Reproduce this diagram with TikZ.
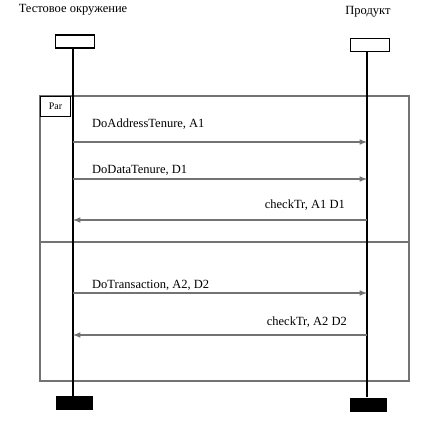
\documentclass[tikz,border=0pt]{standalone}
\usepackage{fontspec}
\setmainfont{Liberation Serif}
\usetikzlibrary{arrows}

\begin{document}
\begin{tikzpicture}[x=1pt,y=-1pt,
  head/.style={draw,line width=1.3pt,minimum width=39pt,minimum height=13pt,inner sep=0pt},
  foot/.style={fill=black,minimum width=37pt,minimum height=14pt,inner sep=0pt},
  msg/.style={draw=black!55,line width=1.5pt,-latex},
  lbl/.style={font=\fontsize{12.5}{14}\selectfont,inner sep=0pt}]
\useasboundingbox (0,0) rectangle (437,434);

\node[lbl] (testenv) at (73, 10) {Тестовое окружение};
\node[lbl] (product) at (368, 12) {Продукт};

\node[head] (envhead) at (75, 41.5) {};
\node[head] (prodhead) at (370, 45) {};
\node[foot] (envfoot) at (74, 403) {};
\node[foot] (prodfoot) at (368.5, 404.5) {};

% frame
\draw[black!55,line width=1.5pt] (40,96) rectangle (409,381);
\draw[black!55,line width=1.5pt] (40,242) -- (409,242);
\node[draw,line width=1pt,minimum width=30pt,minimum height=20pt,inner sep=0pt,anchor=north west,font=\fontsize{10}{11}\selectfont] (par) at (40,96) {Par};

% lifelines
\coordinate (envtop) at (73,48);
\coordinate (envbot) at (73,396);
\coordinate (prodtop) at (367,52);
\coordinate (prodbot) at (367,397);
\draw[line width=1.3pt] (envtop) -- (envbot);
\draw[line width=1.3pt] (prodtop) -- (prodbot);

% messages
\coordinate (l1) at (73,142);  \coordinate (r1) at (367,142);
\coordinate (l2) at (73,179);  \coordinate (r2) at (367,179);
\coordinate (l3) at (73,220);  \coordinate (r3) at (367,220);
\coordinate (l4) at (73,293);  \coordinate (r4) at (367,293);
\coordinate (l5) at (73,335);  \coordinate (r5) at (367,335);

\draw[msg] (l1) -- (r1);
\node[lbl,anchor=west] (m1) at (92,124) {DoAddressTenure, A1};
\draw[msg] (l2) -- (r2);
\node[lbl,anchor=west] (m2) at (92,170) {DoDataTenure, D1};
\draw[msg] (r3) -- (l3);
\node[lbl,anchor=east] (m3) at (345,205) {checkTr, A1 D1};
\draw[msg] (l4) -- (r4);
\node[lbl,anchor=west] (m4) at (92,285) {DoTransaction, A2, D2};
\draw[msg] (r5) -- (l5);
\node[lbl,anchor=east] (m5) at (347,322) {checkTr, A2 D2};
\end{tikzpicture}
\end{document}
